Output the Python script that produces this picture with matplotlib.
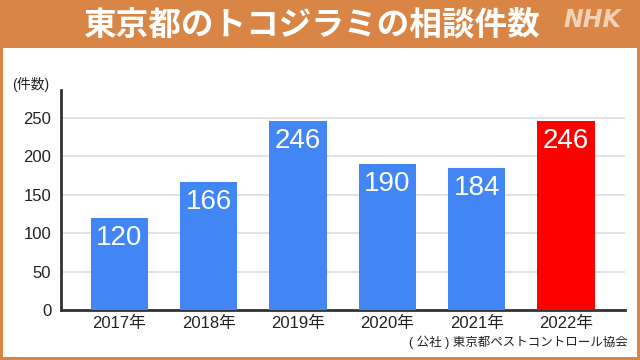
import matplotlib
matplotlib.use('Agg')
import matplotlib.pyplot as plt
from matplotlib.patches import Rectangle

plt.rcParams['font.family'] = ['Liberation Sans', 'Noto Sans CJK JP', 'DejaVu Sans']

# データ
years = ['2017年', '2018年', '2019年', '2020年', '2021年', '2022年']
counts = [120, 166, 246, 190, 184, 246]
colors = ['#4285F4'] * 5 + ['#FF0000']
yticks = [0, 50, 100, 150, 200, 250]

title = '東京都のトコジラミの相談件数'
source = '( 公社 ) 東京都ペストコントロール協会'

fig = plt.figure(figsize=(6.4, 3.6), dpi=100)
fig.patch.set_facecolor('#D98545')

# 白いパネル
fig.patches.append(Rectangle((3 / 640, 3 / 360), 634 / 640, 309 / 360,
                             transform=fig.transFigure, facecolor='white',
                             edgecolor='none', zorder=-10))

fig.text(0.487, 0.93, title, color='white', fontsize=23.5, fontweight='bold',
         ha='center', va='center', family='Noto Sans CJK JP')
fig.text(0.925, 0.945, 'NHK', color='#F3D2B8', fontsize=17, fontweight='bold',
         fontstyle='italic', ha='center', va='center', family='DejaVu Sans')

ax = fig.add_axes([61 / 640, 50 / 360, 564 / 640, 220 / 360])
x = list(range(len(years)))
ax.bar(x, counts, width=0.64, color=colors, zorder=3)
for i, v in enumerate(counts):
    ax.text(i, v - 26, str(v), color='white', fontsize=20, ha='center',
            va='center', zorder=4)

ax.set_xlim(-0.654, 5.66)
ax.set_ylim(0, 286)
ax.set_yticks(yticks)
ax.set_xticks(x)
ax.set_xticklabels(years)
ax.tick_params(axis='both', length=0, labelsize=12, colors='#222222')
ax.tick_params(axis='x', pad=4)
ax.tick_params(axis='y', pad=7)
ax.grid(axis='y', color='#DDDDDD', linewidth=1.2, zorder=1)
for s in ['top', 'right']:
    ax.spines[s].set_visible(False)
ax.spines['left'].set_linewidth(2)
ax.spines['left'].set_color('#333333')
ax.spines['bottom'].set_linewidth(2)
ax.spines['bottom'].set_color('#333333')
ax.set_facecolor('none')

fig.text(12 / 640, 1 - 84 / 360, '(件数)', fontsize=10, color='#222222',
         ha='left', va='center')
fig.text(628 / 640, 1 - 342 / 360, source, fontsize=9, color='#222222',
         ha='right', va='center')

fig.savefig('out.png', dpi=100, facecolor=fig.get_facecolor())
